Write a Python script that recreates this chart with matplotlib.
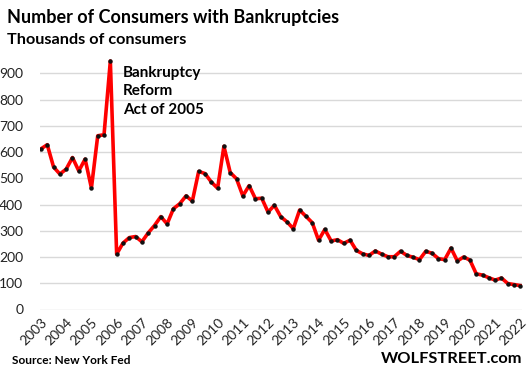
import matplotlib
matplotlib.use("Agg")
import matplotlib.pyplot as plt

years = list(range(2003, 2023))
consumers = [
    612, 628, 543, 516, 535, 579, 528, 573,   # 2003-2004
    463, 662, 666, 947, 211, 253, 274, 278,   # 2005-2006
    258, 292, 320, 354, 326, 384, 403, 433,   # 2007-2008
    413, 526, 518, 486, 462, 622, 522, 498,   # 2009-2010
    433, 472, 422, 424, 371, 397, 354, 334,   # 2011-2012
    308, 379, 355, 331, 264, 305, 261, 266,   # 2013-2014
    252, 264, 225, 212, 206, 223, 211, 201,   # 2015-2016
    201, 222, 206, 199, 190, 222, 214, 194,   # 2017-2018
    190, 234, 185, 200, 188, 136, 131, 121,   # 2019-2020
    112, 120, 99, 95, 91,                     # 2021-2022Q1
]
y_ticks = [0, 100, 200, 300, 400, 500, 600, 700, 800, 900]

FONT = "Lato"
W, H = 530, 374
fig = plt.figure(figsize=(W / 100, H / 100), dpi=100)
px_per_100 = (309.5 - 73.3) / 9
ymax = 960
top_px = 309.5 - ymax / 100 * px_per_100
ax = fig.add_axes([40 / W, (H - 309.5) / H, (522 - 40) / W, (309.5 - top_px) / H])

x = list(range(len(consumers)))
ax.plot(x, consumers, color="#ff0000", lw=2.6, solid_joinstyle="round", zorder=3)
ax.plot(x, consumers, ls="none", marker="o", ms=2.2, color="#111111", zorder=4)

ax.set_xlim(-0.15, len(consumers) - 1 + 0.25)
ax.set_ylim(0, ymax)
ax.set_yticks(y_ticks)
ax.set_yticklabels([str(v) for v in y_ticks])
ax.yaxis.grid(True, color="#d9d9d9", lw=1)
ax.set_axisbelow(True)
for s in ax.spines.values():
    s.set_visible(False)

ax.set_xticks([i * 4 for i in range(len(years))])
ax.set_xticklabels([str(y) for y in years], rotation=45, ha="right", va="top",
                   rotation_mode="anchor")
ax.tick_params(axis="both", length=0, labelsize=10, colors="#222222",
               labelfontfamily=FONT)
ax.tick_params(axis="x", pad=5)
ax.tick_params(axis="y", pad=12)

fig.text(7 / W, 1 - 17 / H, "Number of Consumers with Bankruptcies", fontsize=13,
         fontweight="bold", family=FONT, va="center", ha="left")
fig.text(7 / W, 1 - 40 / H, "Thousands of consumers", fontsize=11.7,
         fontweight="bold", family=FONT, va="center", ha="left")
fig.text(123 / W, 1 - 66 / H, "Bankruptcy\nReform\nAct of 2005", fontsize=11,
         fontweight="bold", family=FONT, va="top", ha="left",
         linespacing=1.4)
fig.text(12 / W, 1 - 361 / H, "Source: New York Fed", fontsize=8.6,
         fontweight="bold", family=FONT, va="center", ha="left")
fig.text(522 / W, 1 - 359 / H, "WOLFSTREET.com", fontsize=11.8,
         fontweight="bold", family=FONT, va="center", ha="right")

fig.savefig("out.png", dpi=100)
